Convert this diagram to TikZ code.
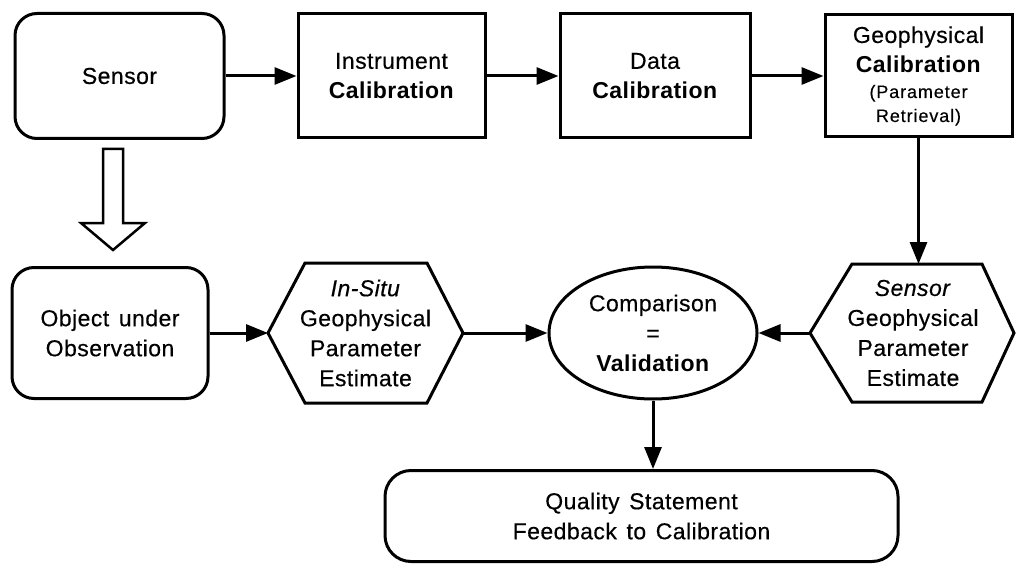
\documentclass[tikz,border=0pt]{standalone}
\usepackage{fontspec}
\setmainfont{Liberation Sans}[LetterSpace=2, WordSpace=1.4, UprightFeatures={FakeBold=0.4}, ItalicFeatures={FakeBold=0.4}]
\usetikzlibrary{arrows.meta,shapes.geometric}
\newfontfamily\smallfnt{Liberation Sans}[LetterSpace=5, FakeBold=0.4]
\newcommand\sm[1]{{\smallfnt\fontsize{18}{21}\selectfont #1}}
\begin{document}
\begin{tikzpicture}[x=1pt,y=-1pt,
  every node/.style={font=\fontsize{23}{30}\selectfont, align=center, inner sep=0pt},
  lw/.style={line width=3pt},
  boxr/.style={lw, draw, rounded corners=22pt},
  boxs/.style={lw, draw},
  conn/.style={line width=3pt, -{Triangle[length=22pt,width=17pt]}},
  hexa/.style={lw, draw, line join=miter}
]
\useasboundingbox (0,0) rectangle (1016,564);

% top row
\node[boxr, minimum width=209pt, minimum height=125pt] (sensor) at (119.5,76) {Sensor};
\node[boxs, minimum width=187pt, minimum height=124pt] (instr) at (391.5,76) {Instrument\\\textbf{Calibration}};
\node[boxs, minimum width=190pt, minimum height=124pt] (data) at (655,76) {Data\\\textbf{Calibration}};
\node[boxs, minimum width=187pt, minimum height=122pt] (geo) at (918.5,76) {Geophysical\\\textbf{Calibration}\\[-5pt]\sm{(Parameter}\\[-6pt]\sm{Retrieval)}};

\draw[conn] (sensor.east) -- (instr.west);
\draw[conn] (instr.east) -- (data.west);
\draw[conn] (data.east) -- (geo.west);

% middle row
\node[boxr, minimum width=196pt, minimum height=131pt] (obj) at (110,333) {Object under\\Observation};

% in-situ hexagon
\coordinate (isL) at (268,333);
\coordinate (isR) at (463,333);
\draw[hexa] (isL) -- (305,263) -- (427,263) -- (isR) -- (427,403) -- (305,403) -- cycle;
\node (insitu) at (365.5,333) {\textit{In-Situ}\\Geophysical\\Parameter\\Estimate};

% sensor hexagon
\coordinate (ssL) at (810,333);
\coordinate (ssR) at (1014,333);
\draw[hexa] (ssL) -- (852,264) -- (982,264) -- (ssR) -- (982,402) -- (852,402) -- cycle;
\node (sensest) at (913,333) {\textit{Sensor}\\Geophysical\\Parameter\\Estimate};

% ellipse
\node[lw, draw, ellipse, minimum width=208pt, minimum height=132pt] (comp) at (653,333) {Comparison\\=\\\textbf{Validation}};

\draw[conn] (obj.east) -- (isL);
\draw[conn] (isR) -- (comp.west);
\draw[conn] (ssL) -- (comp.east);
\draw[conn] (geo.south) -- (geo.south |- 0,264) coordinate (geoend);

% quality
\node[boxr, rounded corners=26pt, minimum width=513pt, minimum height=91pt] (qual) at (641.5,516) {Quality Statement\\Feedback to Calibration};
\draw[conn] (comp.south) -- (comp.south |- qual.north);

% hollow block arrow from sensor to object
\draw[line width=2.5pt, line join=miter]
  (103,149) -- (123,149) -- (123,223) -- (145,223) -- (113,250) -- (81,223) -- (103,223) -- cycle;
\end{tikzpicture}
\end{document}
